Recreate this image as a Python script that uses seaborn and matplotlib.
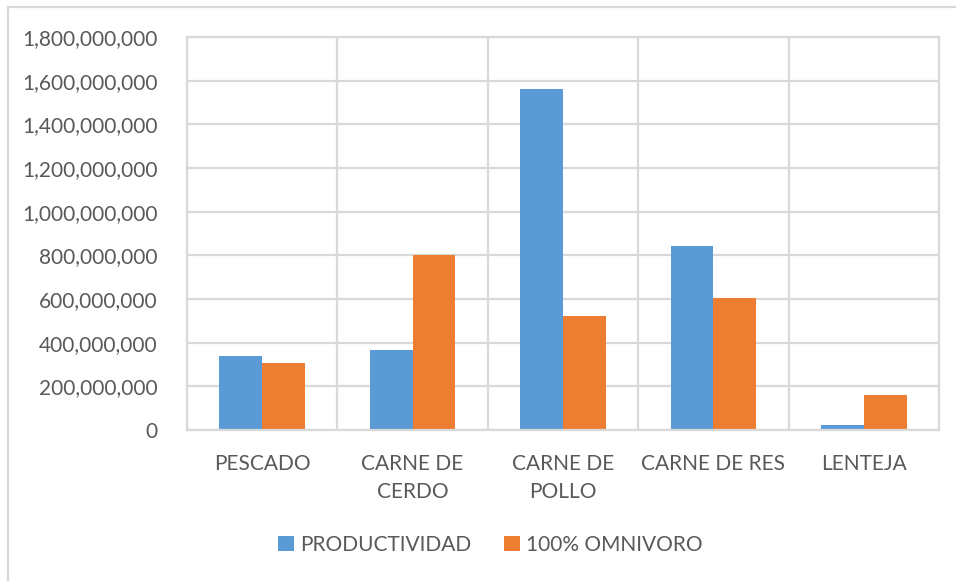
import matplotlib
matplotlib.use("Agg")
import matplotlib.pyplot as plt
from matplotlib.patches import Rectangle, Patch
from matplotlib.ticker import FuncFormatter, MultipleLocator
import seaborn as sns
import pandas as pd

# Chart data
categories = ["PESCADO", "CARNE DE\nCERDO", "CARNE DE\nPOLLO", "CARNE DE RES", "LENTEJA"]
series_names = ["PRODUCTIVIDAD", "100% OMNIVORO"]
productividad = [340e6, 366e6, 1564e6, 845e6, 22e6]
omnivoro = [308e6, 803e6, 522e6, 603e6, 162e6]

colors = ["#5B9BD5", "#ED7D31"]
text_color = "#595959"
grid_color = "#D9D9D9"

df = pd.DataFrame({
    "categoria": categories * 2,
    "serie": [series_names[0]] * len(categories) + [series_names[1]] * len(categories),
    "valor": productividad + omnivoro,
})

sns.set_theme(style="white")
plt.rcParams["font.family"] = ["Lato", "DejaVu Sans"]

fig = plt.figure(figsize=(9.56, 5.81), dpi=100)
ax = fig.add_axes([187 / 956, 1 - 430 / 581, (939 - 187) / 956, (430 - 37) / 581])

sns.barplot(data=df, x="categoria", y="valor", hue="serie", order=categories,
            hue_order=series_names, palette=colors, width=0.57, gap=0,
            saturation=1, errorbar=None, ax=ax, legend=False, linewidth=0)

ax.set_xlim(-0.5, len(categories) - 0.5)
ax.set_ylim(0, 1.8e9)
ax.yaxis.set_major_locator(MultipleLocator(2e8))
ax.yaxis.set_major_formatter(FuncFormatter(lambda v, p: f"{int(round(v)):,}"))
ax.set_xticks(range(len(categories)))
ax.set_xticklabels(categories, linespacing=1.5)
ax.set_xticks([i + 0.5 for i in range(-1, len(categories))], minor=True)

ax.grid(True, axis="y", which="major", color=grid_color, linewidth=1.6)
ax.grid(True, axis="x", which="minor", color=grid_color, linewidth=1.6)
ax.grid(False, axis="x", which="major")
ax.set_axisbelow(True)
for s in ax.spines.values():
    s.set_visible(True)
    s.set_color(grid_color)
    s.set_linewidth(1.6)

ax.tick_params(axis="y", length=0, pad=21, labelsize=15, labelcolor=text_color)
ax.tick_params(axis="x", which="major", length=0, pad=17, labelsize=15, labelcolor=text_color)
ax.tick_params(axis="x", which="minor", length=0)
ax.set_xlabel("")
ax.set_ylabel("")

handles = [Patch(facecolor=c, edgecolor="none") for c in colors]
fig.legend(handles, series_names, loc="center", bbox_to_anchor=(0.513, 1 - 545 / 581),
           ncol=2, frameon=False, fontsize=15, labelcolor=text_color,
           handlelength=0.75, handleheight=0.75, handletextpad=0.3, columnspacing=1.6)

# chart area border
fig.patches.append(Rectangle((8 / 956, -0.1), 1.2, 1 - 7 / 581 + 0.1,
                             transform=fig.transFigure, fill=False,
                             edgecolor=grid_color, linewidth=1.6))

fig.savefig("out.png", dpi=100, facecolor="white")
